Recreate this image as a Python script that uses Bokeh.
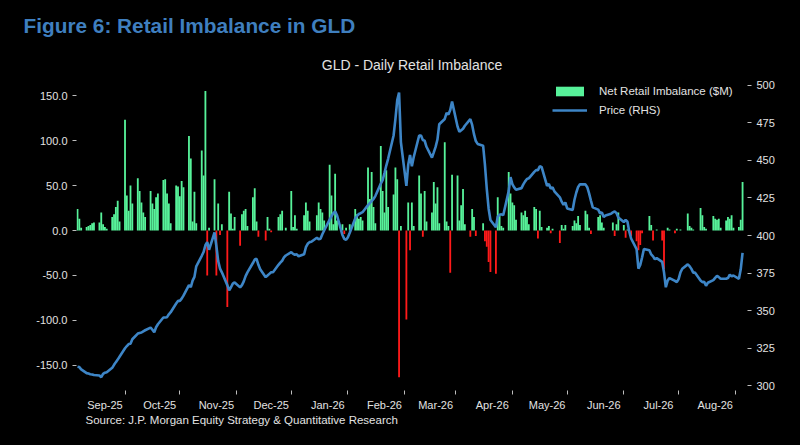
import pandas as pd
from bokeh.plotting import figure
from bokeh.models import (Range1d, LinearAxis, FixedTicker, Title, Legend, LegendItem,
                          ColumnDataSource, NumeralTickFormatter)
from bokeh.embed import file_html
from bokeh.resources import INLINE

# ---------------- data ----------------
start_date = "2025-08-06"
end_date = "2026-08-05"

# Net retail imbalance ($M), one value per business day
imbalance = [
    24, 13, 3,
    4, 5, 6, 8, 9,
    9, 20, 7, 4, 2,
    15, 18, 26, 33, 10,
    123, 39, 22, 50, 30,
    58, 44, 31, 20, 15,
    44, 30, 24, 37, 41,
    56, 57, 41, 30, 8,
    50, 49, 38, 55, 48,
    105, 80, 10, 43, 8,
    89, 61, 155, -50, 3,
    57, -50, 30, -5, 7,
    -85, 43, 19, 2, 15,
    -17, 18, 22, 24, 5,
    37, 47, 10, -7, 0,
    -11, 15, 2, -2, 0,
    15, 18, 22, 0, 3,
    44, 4, 17, 2, 0,
    17, 31, 22, 10, 0,
    17, 31, 24, 20, 11,
    73, 39, 7, 63, 11,
    7, -4, 3, 0, 7,
    24, 18, 13, 15, 11,
    70, 35, 65, 26, 8,
    94, 44, 20, 67, 26,
    40, 70, 57, -163, 5,
    -99, 31, -22, 31, 5,
    61, 41, -7, 44, 10,
    20, 54, 30, 48, 8,
    98, 10, 5, -47, 62,
    61, 11, 28, 46, 7,
    -7, 24, 15, -6, 0,
    8, -12, -18, -35, -46,
    -48, 37, 17, 5, 3,
    65, 41, 31, 28, 12,
    20, 17, 22, 15, 7,
    26, 24, -9, 22, 4,
    3, 5, -3, 2, 0,
    -14, 6, 2, 6, 0,
    5, 11, 8, 16, 6,
    22, 18, 3, -4, 0,
    15, 17, 9, 3, 0,
    0, 9, -6, 7, 20,
    6, -8, 1, 0, -6,
    -12, -22, -16, -3, 0,
    16, 6, -11, 0, 1,
    -11, -43, 0, 3, 1,
    -3, 2, 0, 1, 0,
    19, 5, 3, 1, 0,
    25, 17, 4, 2, 0,
    16, 13, 12, 13, 3,
    11, 15, 13, 17, 3,
    4, 12, 54,
]

# GLD price (RHS), one value per business day
price = [
    312.8, 312.5, 311.0,
    308.5, 308.2, 307.8, 307.6, 307.2,
    306.9, 305.8, 308.0, 308.8, 309.1,
    312.0, 314.0, 315.8, 317.5, 319.4,
    325.0, 326.5, 327.8, 328.0, 331.0,
    334.8, 335.2, 335.5, 336.3, 337.0,
    338.8, 337.3, 335.7, 339.0, 341.0,
    345.5, 345.5, 345.7, 347.6, 349.0,
    354.8, 356.5, 356.5, 358.0, 360.0,
    367.0, 365.6, 370.0, 372.5, 379.5,
    386.5, 389.0, 393.5, 395.6, 390.5,
    402.0, 393.0, 383.0, 378.0, 375.5,
    367.0, 363.5, 365.6, 368.0, 368.8,
    365.5, 367.0, 369.5, 373.0, 375.5,
    381.7, 384.0, 384.5, 380.5, 377.5,
    372.3, 373.4, 374.5, 375.6, 375.6,
    380.5, 382.0, 383.2, 385.4, 386.7,
    388.9, 387.8, 387.2, 387.5, 386.2,
    387.5, 392.2, 394.5, 395.6, 395.8,
    398.5, 397.5, 397.8, 400.8, 403.3,
    410.5, 412.8, 414.9, 416.0, 413.5,
    400.3, 397.8, 397.1, 398.9, 401.8,
    411.3, 413.0, 414.3, 414.8, 415.5,
    420.2, 421.5, 422.8, 424.3, 426.2,
    434.5, 436.8, 441.5, 446.5, 451.0,
    466.5, 477.5, 490.0, 495.0, 462.0,
    433.0, 447.0, 453.5, 446.0, 452.0,
    466.5, 466.5, 463.5, 463.0, 459.0,
    451.8, 455.3, 458.9, 463.8, 474.0,
    477.5, 481.5, 480.5, 483.5, 489.0,
    472.5, 469.0, 470.0, 471.0, 473.0,
    477.4, 473.5, 467.4, 462.8, 460.9,
    459.7, 447.0, 431.0, 418.0, 410.3,
    405.5, 412.5, 413.8, 414.1, 413.5,
    429.5, 438.8, 434.2, 432.0, 430.5,
    431.5, 434.0, 436.0, 437.6, 438.0,
    442.3, 443.5, 443.5, 446.0, 445.6,
    433.0, 434.3, 431.2, 432.0, 429.4,
    425.4, 422.5, 420.4, 422.0, 418.0,
    417.0, 423.8, 428.6, 432.3, 434.0,
    434.0, 432.1, 428.0, 423.2, 418.7,
    417.2, 414.7, 415.3, 412.3, 413.3,
    414.5, 415.4, 416.0, 414.9, 412.0,
    408.9, 410.4, 409.2, 402.5, 398.0,
    391.0, 378.0, 380.5, 385.4, 391.0,
    390.2, 387.4, 386.1, 384.2, 385.0,
    382.5, 375.5, 365.6, 370.0, 371.7,
    369.8, 369.0, 371.0, 375.5, 377.9,
    380.8, 379.6, 377.8, 375.3, 375.3,
    370.1, 369.0, 369.2, 366.6, 368.6,
    370.3, 371.8, 373.2, 372.3, 371.2,
    371.2, 371.7, 374.0, 372.8, 373.4,
    371.2, 377.5, 388.5,
]

month_starts = ["2025-09-01", "2025-10-01", "2025-11-01", "2025-12-01",
                "2026-01-01", "2026-02-01", "2026-03-01", "2026-04-01",
                "2026-05-01", "2026-06-01", "2026-07-01", "2026-08-01"]
month_labels = ["Sep-25", "Oct-25", "Nov-25", "Dec-25", "Jan-26", "Feb-26",
                "Mar-26", "Apr-26", "May-26", "Jun-26", "Jul-26", "Aug-26"]
left_ticks = [-150, -100, -50, 0, 50, 100, 150]
right_ticks = [300, 325, 350, 375, 400, 425, 450, 475, 500]

title_text = "Figure 6: Retail Imbalance in GLD"
subtitle_text = "GLD - Daily Retail Imbalance"
source_text = "Source: J.P. Morgan Equity Strategy & Quantitative Research"
bar_label = "Net Retail Imbalance ($M)"
line_label = "Price (RHS)"

# ---------------- build ----------------
origin = pd.Timestamp("2025-08-01")
dates = pd.bdate_range(start_date, end_date)
xs = [(d - origin).days for d in dates]
n = min(len(xs), len(imbalance), len(price))
xs, imbalance, price = xs[:n], imbalance[:n], price[:n]

pos = ColumnDataSource(dict(x=[x for x, v in zip(xs, imbalance) if v >= 0],
                            v=[v for v in imbalance if v >= 0]))
neg = ColumnDataSource(dict(x=[x for x, v in zip(xs, imbalance) if v < 0],
                            v=[v for v in imbalance if v < 0]))
line_src = ColumnDataSource(dict(x=xs, p=price))

month_ticks = [(pd.Timestamp(m) - origin).days for m in month_starts]
label_ticks = [t - 11 for t in month_ticks]

FONT = "Liberation Sans"
GREEN = "#57f29a"
RED = "#ff1a1a"
BLUE = "#3d85c6"
TXT = "#e2e2e2"
TICK = "#bdbdbd"

p = figure(width=800, height=445, output_backend="svg", toolbar_location=None,
           x_range=Range1d(4.45, 371.7), y_range=Range1d(-177.8, 166.7),
           background_fill_color="black", border_fill_color="black",
           outline_line_color=None,
           min_border_left=76, min_border_right=53, min_border_top=80, min_border_bottom=55)
p.extra_y_ranges = {"price": Range1d(296.94, 503.06)}
p.grid.visible = False

try:
    from bokeh.models import GlobalInlineStyleSheet
    p.stylesheets = [GlobalInlineStyleSheet(css="html, body { background-color: #000000; }")]
except Exception:
    pass

r_pos = p.vbar(x="x", top="v", bottom=0, width=1.0, source=pos, fill_color=GREEN, line_color=None)
r_neg = p.vbar(x="x", top="v", bottom=0, width=1.0, source=neg, fill_color=RED, line_color=None)
r_line = p.line(x="x", y="p", source=line_src, y_range_name="price", line_color=BLUE, line_width=2.6)

# left axis
ya = p.yaxis[0]
ya.ticker = FixedTicker(ticks=left_ticks)
ya.formatter = NumeralTickFormatter(format="0.0")

# right axis
ra = LinearAxis(y_range_name="price", ticker=FixedTicker(ticks=right_ticks))
p.add_layout(ra, "right")

for ax in (ya, ra):
    ax.axis_line_color = None
    ax.major_tick_line_color = TICK
    ax.major_tick_out = 4
    ax.major_tick_in = 0
    ax.minor_tick_line_color = None
    ax.major_label_text_color = TXT
    ax.major_label_text_font = FONT
    ax.major_label_text_font_size = "11px"
    ax.major_label_standoff = 5

# bottom axis: tick marks at month starts (minor), labels right-aligned to them (major)
xa = p.xaxis[0]
xa.ticker = FixedTicker(ticks=label_ticks, minor_ticks=month_ticks)
xa.major_label_overrides = {t: lab for t, lab in zip(label_ticks, month_labels)}
xa.axis_line_color = None
xa.major_tick_line_color = None
xa.major_tick_out = 0
xa.major_tick_in = 0
xa.minor_tick_line_color = TICK
xa.minor_tick_out = 4
xa.minor_tick_in = 0
xa.major_label_standoff = 4
xa.major_label_text_color = TXT
xa.major_label_text_font = FONT
xa.major_label_text_font_size = "11px"

# titles (main title outermost, chart subtitle next to the frame)
p.title.text = title_text
p.title.align = "left"
p.title.offset = -53
p.title.text_font = FONT
p.title.text_font_style = "bold"
p.title.text_font_size = "20.8px"
p.title.text_color = "#3f7fbf"
p.title.standoff = 19

p.add_layout(Title(text=subtitle_text, align="center", text_font=FONT,
                   text_font_style="normal", text_font_size="14px", text_color=TXT,
                   standoff=16), "above")
p.add_layout(Title(text=source_text, align="left", offset=9, text_font=FONT,
                   text_font_style="normal", text_font_size="11.5px", text_color=TXT,
                   standoff=-4), "below")

legend = Legend(items=[LegendItem(label=bar_label, renderers=[r_pos]),
                       LegendItem(label=line_label, renderers=[r_line])],
                location=(476, 274), glyph_width=35, glyph_height=12, label_height=12,
                label_standoff=12, spacing=7, padding=0, margin=0,
                border_line_color=None, background_fill_alpha=0,
                label_text_color=TXT, label_text_font=FONT, label_text_font_size="11.5px")
p.add_layout(legend)

open("out.html", "w").write(file_html(p, INLINE))
